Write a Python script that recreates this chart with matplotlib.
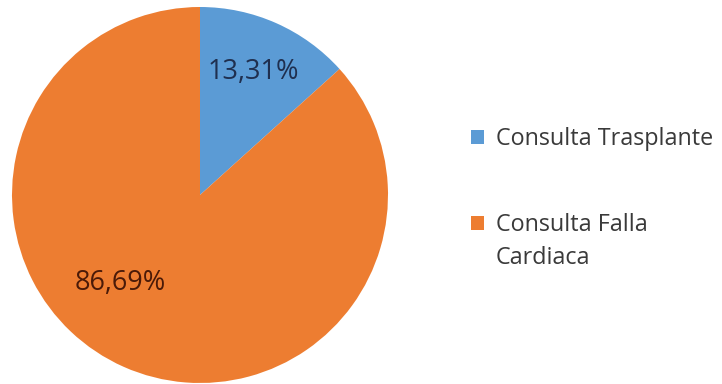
import matplotlib
matplotlib.use("Agg")
import matplotlib.pyplot as plt
from matplotlib.patches import Rectangle

categories = ["Consulta Trasplante", "Consulta Falla\nCardiaca"]
values = [13.31, 86.69]
labels = ["13,31%", "86,69%"]
colors = ["#5B9BD5", "#ED7D31"]
label_colors = ["#1F2F4F", "#4A1A08"]

plt.rcParams['font.family'] = ['Open Sans', 'DejaVu Sans']

W, H = 722, 384
fig = plt.figure(figsize=(W/100, H/100), dpi=100)
cx, cy, r = 200, 195, 188
ax = fig.add_axes([(cx - r)/W, (H - cy - r)/H, 2*r/W, 2*r/H])
wedges, _ = ax.pie(values, colors=colors, startangle=90, counterclock=False,
                   radius=1, wedgeprops=dict(linewidth=0))
ax.set_xlim(-1, 1)
ax.set_ylim(-1, 1)
ax.set_aspect('equal')
ax.axis('off')

label_pos = [(0.282, 0.654), (-0.426, -0.468)]
for (x, y), t, c in zip(label_pos, labels, label_colors):
    ax.text(x, y, t, ha='center', va='center', fontsize=19.5, color=c)

# legend (drawn manually so the swatch aligns with the first text line)
legend_baselines = [145, 231]
line_step = 33
for base, cat, col in zip(legend_baselines, categories, colors):
    fig.add_artist(Rectangle((471/W, 1 - (base - 1)/H), 13/W, 14/H,
                             transform=fig.transFigure, facecolor=col,
                             edgecolor='none'))
    for k, line in enumerate(cat.split('\n')):
        fig.text(496/W, 1 - (base + k*line_step)/H, line, ha='left',
                 va='baseline', fontsize=16.8, color='#3A3A3A')

fig.savefig("out.png", dpi=100)
